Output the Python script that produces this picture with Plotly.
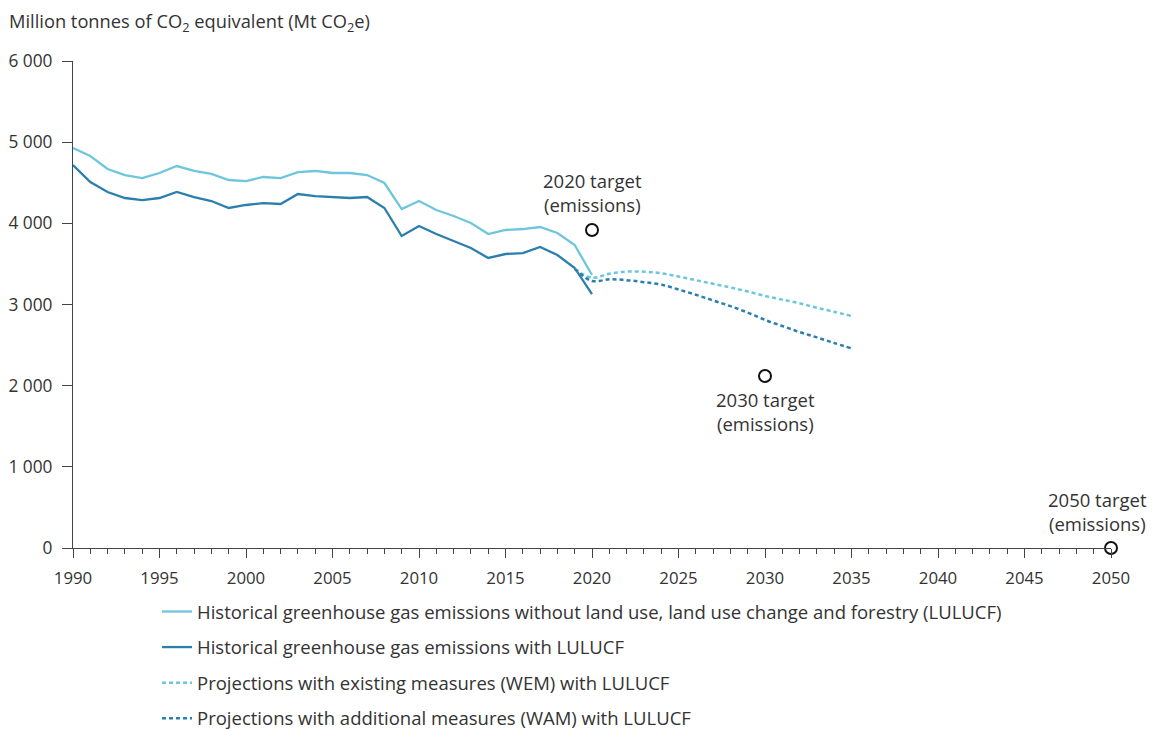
import plotly.graph_objects as go

years_hist = list(range(1990, 2021))
ghg_without_lulucf = [4928, 4829, 4669, 4595, 4558, 4620, 4706, 4645, 4608, 4534,
                      4521, 4571, 4558, 4632, 4645, 4620, 4620, 4595, 4497, 4176,
                      4275, 4164, 4090, 4004, 3868, 3918, 3930, 3955, 3881, 3733, 3363]
ghg_with_lulucf = [4718, 4509, 4386, 4312, 4287, 4312, 4386, 4324, 4275, 4189,
                   4226, 4250, 4238, 4361, 4336, 4324, 4312, 4324, 4189, 3844,
                   3967, 3868, 3782, 3696, 3573, 3622, 3634, 3708, 3610, 3450, 3129]
years_proj = list(range(2019, 2036))
wem = [3440, 3330, 3380, 3405, 3405, 3385, 3345, 3300, 3255, 3210, 3160, 3105, 3060, 3015, 2960, 2910, 2858]
wam = [3440, 3290, 3310, 3300, 3275, 3245, 3185, 3120, 3050, 2980, 2900, 2810, 2735, 2660, 2595, 2525, 2460]
target_years = [2020, 2030, 2050]
target_values = [3918, 2119, 0]
target_labels = ["2020 target<br>(emissions)", "2030 target<br>(emissions)", "2050 target<br>(emissions)"]

LIGHT = "#6ec6dd"
DARK = "#2b7fad"
TXT = "#333333"
FONT = "Open Sans"

# page offset (browser body margin) compensation
OFF = 8
W, H = 1166 - OFF, 729 - OFF + 30
ML, MR, MT, MB = 73 - OFF, 55, 61 - OFF, 0
PH = H - MT - MB          # paper height in px
PW = W - ML - MR          # paper width in px
Y_BOTTOM = 548 - OFF      # screen y of value 0, in figure coordinates
DOM0 = (H - MB - Y_BOTTOM) / PH


def py(screen_y):
    """screen pixel y -> paper fraction"""
    return (H - MB - (screen_y - OFF)) / PH


def px(screen_x):
    return (screen_x - OFF - ML) / PW


fig = go.Figure()
fig.add_trace(go.Scatter(x=years_hist, y=ghg_without_lulucf, mode="lines",
                         line=dict(color=LIGHT, width=2.3),
                         name="Historical greenhouse gas emissions without land use, land use change and forestry (LULUCF)",
                         legendgroup="a"))
fig.add_trace(go.Scatter(x=years_hist, y=ghg_with_lulucf, mode="lines",
                         line=dict(color=DARK, width=2.3),
                         name="Historical greenhouse gas emissions with LULUCF", legendgroup="b"))
fig.add_trace(go.Scatter(x=years_proj, y=wem, mode="lines", line_shape="spline",
                         line=dict(color=LIGHT, width=2.5, dash="4px,3px"),
                         name="Projections with existing measures (WEM) with LULUCF", legendgroup="c"))
fig.add_trace(go.Scatter(x=years_proj, y=wam, mode="lines", line_shape="spline",
                         line=dict(color=DARK, width=2.5, dash="4px,3px"),
                         name="Projections with additional measures (WAM) with LULUCF", legendgroup="d"))
fig.add_trace(go.Scatter(x=target_years, y=target_values, mode="markers",
                         marker=dict(symbol="circle", size=12, color="white",
                                     line=dict(color="#111111", width=2)),
                         cliponaxis=False, showlegend=False, hoverinfo="skip"))

positions = [("center", "bottom", 0, 11), ("center", "top", 0, -9), ("center", "bottom", -14, 10)]
for yr, val, lab, (xa, ya, xs, ys) in zip(target_years, target_values, target_labels, positions):
    fig.add_annotation(x=yr, y=val, text=lab, showarrow=False, xanchor=xa, yanchor=ya,
                       xshift=xs, yshift=ys, font=dict(size=18.5, color=TXT, family=FONT))

fig.add_annotation(xref="paper", yref="paper", x=px(7), y=py(22), xanchor="left", yanchor="middle",
                   text="Million tonnes of CO<sub>2</sub> equivalent (Mt CO<sub>2</sub>e)",
                   showarrow=False, font=dict(size=18.3, color=TXT, family=FONT))

fig.update_layout(
    width=W, height=H,
    margin=dict(l=ML, r=MR, t=MT, b=MB),
    plot_bgcolor="white", paper_bgcolor="white",
    separators=". ",
    font=dict(family=FONT, size=16, color=TXT),
    showlegend=True,
    legend=dict(x=px(157), y=py(737), xanchor="left", yanchor="bottom",
                orientation="v", traceorder="grouped", tracegroupgap=8.5,
                font=dict(size=18.5, color=TXT, family=FONT), itemwidth=30),
    xaxis=dict(range=[1990, 2050], showgrid=False, zeroline=False, automargin=False,
               showline=True, linecolor="#444444", linewidth=1.2,
               ticks="outside", ticklen=9, tickcolor="#444444", tickwidth=1.2,
               ticklabelstandoff=6,
               tick0=1990, dtick=5, tickfont=dict(size=16.8, color=TXT),
               minor=dict(dtick=1, ticks="outside", ticklen=5, tickcolor="#444444", tickwidth=1)),
    yaxis=dict(range=[0, 6000], domain=[DOM0, 1], showgrid=False, zeroline=False, automargin=False,
               showline=True, linecolor="#444444", linewidth=1.2,
               ticks="outside", ticklen=10, tickcolor="#444444", tickwidth=1.2,
               ticklabelstandoff=6,
               dtick=1000, tickformat=",d", tickfont=dict(size=17.3, color=TXT)),
)

fig.write_html("out.html")
